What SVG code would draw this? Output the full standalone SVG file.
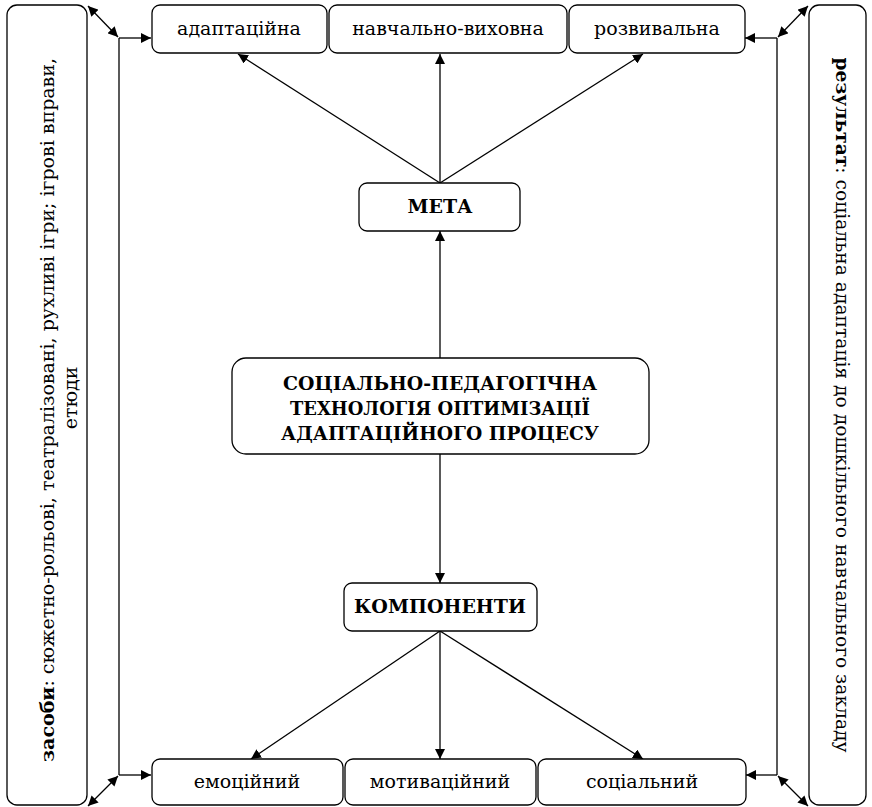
<svg xmlns="http://www.w3.org/2000/svg" width="872" height="807" viewBox="0 0 872 807">
<style>
.box{fill:#fff;stroke:#000;stroke-width:1.3}
.t{font-family:"DejaVu Serif","Liberation Serif",serif;font-size:19px;fill:#000}
.b{font-weight:bold}
.c{text-anchor:middle}
.ln{stroke:#000;stroke-width:1.3;fill:none}
</style>
<defs>
<marker id="ah" viewBox="0 0 10 10" refX="10" refY="5" markerWidth="10" markerHeight="10" markerUnits="userSpaceOnUse" orient="auto-start-reverse">
<path d="M0,0 L10,5 L0,10 z" fill="#000"/>
</marker>
</defs>
<rect width="872" height="807" fill="#fff"/>

<g id="connectors">
<line class="ln" x1="440" y1="183" x2="238" y2="54" marker-end="url(#ah)"/>
<line class="ln" x1="440" y1="183" x2="440" y2="54" marker-end="url(#ah)"/>
<line class="ln" x1="440" y1="183" x2="643" y2="54" marker-end="url(#ah)"/>
<line class="ln" x1="440" y1="358" x2="440" y2="231" marker-end="url(#ah)"/>
<line class="ln" x1="440" y1="454" x2="440" y2="583" marker-end="url(#ah)"/>
<line class="ln" x1="440" y1="631" x2="251" y2="759" marker-end="url(#ah)"/>
<line class="ln" x1="440" y1="631" x2="440" y2="759" marker-end="url(#ah)"/>
<line class="ln" x1="440" y1="631" x2="643" y2="759" marker-end="url(#ah)"/>
<line class="ln" x1="119" y1="38" x2="119" y2="775"/>
<line class="ln" x1="119" y1="38" x2="151" y2="38" marker-end="url(#ah)"/>
<line class="ln" x1="119" y1="775" x2="151" y2="775" marker-end="url(#ah)"/>
<line class="ln" x1="118" y1="37" x2="88" y2="6" marker-start="url(#ah)" marker-end="url(#ah)"/>
<line class="ln" x1="118" y1="776" x2="88" y2="806" marker-start="url(#ah)" marker-end="url(#ah)"/>
<line class="ln" x1="777" y1="38" x2="777" y2="775"/>
<line class="ln" x1="777" y1="38" x2="745" y2="38" marker-end="url(#ah)"/>
<line class="ln" x1="777" y1="775" x2="746" y2="775" marker-end="url(#ah)"/>
<line class="ln" x1="778" y1="37" x2="808" y2="6" marker-start="url(#ah)" marker-end="url(#ah)"/>
<line class="ln" x1="778" y1="776" x2="808" y2="806" marker-start="url(#ah)" marker-end="url(#ah)"/>
</g>

<g id="zasoby">
<rect class="box" x="7" y="5" width="80" height="800" rx="10"/>
<text class="t c" transform="translate(54,410) rotate(-90)" textLength="704" lengthAdjust="spacingAndGlyphs"><tspan class="b">засоби</tspan>: сюжетно-рольові, театралізовані, рухливі ігри; ігрові вправи,</text>
<text class="t c" transform="translate(77,398) rotate(-90)">етюди</text>
</g>

<g id="rezultat">
<rect class="box" x="809" y="5" width="57" height="800" rx="10"/>
<text class="t c" transform="translate(836,405) rotate(90)" textLength="695" lengthAdjust="spacingAndGlyphs"><tspan class="b">результат</tspan>: соціальна адаптація до дошкільного навчального закладу</text>
</g>

<g id="adaptatsiina">
<rect class="box" x="152" y="5" width="175" height="48" rx="8"/>
<text class="t c" x="239" y="35">адаптаційна</text>
</g>
<g id="navchalno">
<rect class="box" x="329" y="5" width="238" height="48" rx="8"/>
<text class="t c" x="448" y="35">навчально-виховна</text>
</g>
<g id="rozvyvalna">
<rect class="box" x="569" y="5" width="176" height="48" rx="8"/>
<text class="t c" x="657" y="35">розвивальна</text>
</g>

<g id="meta">
<rect class="box" x="359" y="183" width="161" height="48" rx="8"/>
<text class="t b c" x="440" y="213">МЕТА</text>
</g>

<g id="tekhnolohiia">
<rect class="box" x="232" y="358" width="417" height="96" rx="14"/>
<text class="t b c" x="440" y="390" textLength="314" lengthAdjust="spacingAndGlyphs">СОЦІАЛЬНО-ПЕДАГОГІЧНА</text>
<text class="t b c" x="440" y="415" textLength="300" lengthAdjust="spacingAndGlyphs">ТЕХНОЛОГІЯ ОПТИМІЗАЦІЇ</text>
<text class="t b c" x="440" y="440" textLength="318" lengthAdjust="spacingAndGlyphs">АДАПТАЦІЙНОГО ПРОЦЕСУ</text>
</g>

<g id="komponenty">
<rect class="box" x="344" y="583" width="193" height="48" rx="8"/>
<text class="t b c" x="440" y="613">КОМПОНЕНТИ</text>
</g>

<g id="emotsiinyi">
<rect class="box" x="152" y="759" width="191" height="46" rx="8"/>
<text class="t c" x="247" y="788">емоційний</text>
</g>
<g id="motyvatsiinyi">
<rect class="box" x="345" y="759" width="191" height="46" rx="8"/>
<text class="t c" x="440" y="788">мотиваційний</text>
</g>
<g id="sotsialnyi">
<rect class="box" x="538" y="759" width="208" height="46" rx="8"/>
<text class="t c" x="642" y="788">соціальний</text>
</g>
</svg>
